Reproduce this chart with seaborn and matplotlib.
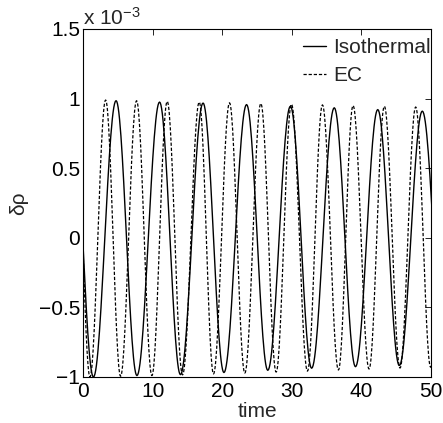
import numpy as np
import pandas as pd
import matplotlib
matplotlib.use("Agg")
import matplotlib.pyplot as plt
from matplotlib.ticker import FuncFormatter
import seaborn as sns

# turning points (time, delta rho in units of 1e-3);
# first and last entries lie just outside the 0-50 window
iso_t = [-1.6, 1.5, 4.75, 7.75, 11.0, 14.0, 17.25, 20.25, 23.5, 26.55,
         29.8, 32.85, 36.1, 39.15, 42.35, 45.45, 48.75, 52.0]
iso_v = [0.99, -1.0, 0.985, -0.99, 0.975, -0.983, 0.968, -0.968, 0.957, -0.952,
         0.945, -0.937, 0.934, -0.926, 0.921, -0.918, 0.91, -0.91]

ec_t = [-1.1, 1.0, 3.25, 5.4, 7.7, 9.9, 12.1, 14.3, 16.7, 18.75, 21.05, 23.25,
        25.55, 27.75, 29.95, 32.25, 34.4, 36.7, 38.8, 41.1, 43.3, 45.55, 47.8,
        49.95, 52.2]
ec_v = [0.99, -1.0, 0.99, -0.995, 0.985, -0.99, 0.98, -0.985, 0.975, -0.978,
        0.97, -0.972, 0.965, -0.965, 0.96, -0.958, 0.955, -0.95, 0.95, -0.943,
        0.945, -0.936, 0.94, -0.93, 0.935]

x_ticks = [0, 10, 20, 30, 40, 50]
y_ticks = [-1, -0.5, 0, 0.5, 1, 1.5]


def turning_curve(tp, vp, n=30):
    # join neighbouring turning points with a half cosine
    ts, vs = [], []
    for i in range(len(tp) - 1):
        s = np.linspace(0, 1, n, endpoint=False)
        ts.append(tp[i] + (tp[i + 1] - tp[i]) * s)
        vs.append(vp[i] + (vp[i + 1] - vp[i]) * (1 - np.cos(np.pi * s)) / 2)
    ts.append([tp[-1]])
    vs.append([vp[-1]])
    return np.concatenate(ts), np.concatenate(vs)


t1, v1 = turning_curve(iso_t, iso_v)
t2, v2 = turning_curve(ec_t, ec_v)
df_iso = pd.DataFrame({"time": t1, "drho": v1})
df_ec = pd.DataFrame({"time": t2, "drho": v2})

sns.set_style("white")
plt.rcParams["font.family"] = ["Liberation Sans", "DejaVu Sans"]
plt.rcParams["mathtext.default"] = "regular"
fs = 15

fig = plt.figure(figsize=(4.43, 4.23), dpi=100)
ax = fig.add_axes([83 / 443, 1 - 377 / 423, 348 / 443, 348 / 423])

sns.lineplot(data=df_iso, x="time", y="drho", color="k", lw=1.0,
             estimator=None, sort=False, label="Isothermal", ax=ax)
sns.lineplot(data=df_ec, x="time", y="drho", color="k", lw=0.9,
             linestyle=(0, (2.6, 1.5)), estimator=None, sort=False,
             label="EC", ax=ax)

ax.set_xlim(0, 50)
ax.set_ylim(-1, 1.5)
ax.set_xticks(x_ticks)
ax.set_yticks(y_ticks)
fmt = FuncFormatter(lambda v, p: ("%g" % v).replace("-", "\u2212"))
ax.xaxis.set_major_formatter(fmt)
ax.yaxis.set_major_formatter(fmt)
ax.tick_params(direction="in", length=4, width=0.6, top=True, right=True,
               labelsize=fs, colors="k")
ax.tick_params(axis="x", pad=3.5)
ax.tick_params(axis="y", pad=2)
for sp in ax.spines.values():
    sp.set_visible(True)
    sp.set_color("k")
    sp.set_linewidth(0.8)

ax.set_xlabel("time", fontsize=fs, labelpad=1)
ax.set_ylabel("\u03b4\u03c1", fontsize=fs, labelpad=8)
ax.text(0, 1.0, "x 10$^{\u22123}$", transform=ax.transAxes, fontsize=fs,
        ha="left", va="bottom")

ax.legend(loc="upper right", bbox_to_anchor=(1.0, 1 - 9 / 348),
          frameon=False, fontsize=fs, borderaxespad=0.0, borderpad=0.0,
          handlelength=1.1, handletextpad=0.34, labelspacing=0.43)

fig.savefig("out.png", dpi=100)
